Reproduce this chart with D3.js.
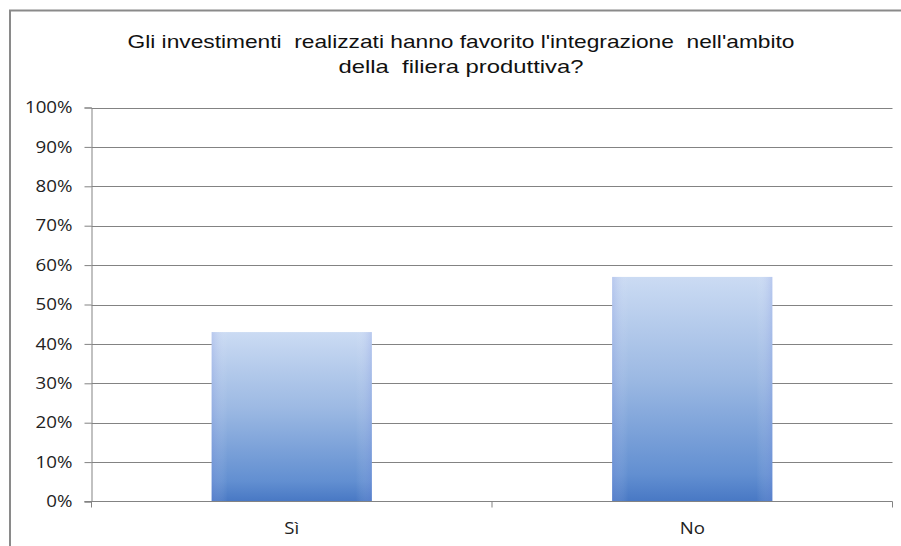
<!DOCTYPE html>
<html>
<head>
<meta charset="utf-8">
<script src="https://cdn.jsdelivr.net/npm/d3@7"></script>
<style>
  html, body { margin: 0; padding: 0; background: #ffffff; }
  svg { display: block; }
</style>
</head>
<body>
<script>
// Survey answers: share of respondents per answer
const categories = ["Sì", "No"];
const shares = [0.43, 0.57];
const yTicks = [0, 0.1, 0.2, 0.3, 0.4, 0.5, 0.6, 0.7, 0.8, 0.9, 1.0];
const titleLines = [
  "Gli investimenti  realizzati hanno favorito l'integrazione  nell'ambito",
  "della  filiera produttiva?"
];

const W = 901, H = 546;
const plot = { left: 91.5, right: 892.5, top: 107.5, bottom: 501.5 };

const svg = d3.select("body").append("svg")
  .attr("width", W).attr("height", H);

// widen a text node horizontally by a given factor
function widen(sel, factor) {
  sel.each(function () {
    const len = this.getComputedTextLength();
    d3.select(this)
      .attr("textLength", len * factor)
      .attr("lengthAdjust", "spacingAndGlyphs");
  });
}

// gradient for the bars: light blue on top, deeper blue at the base
const defs = svg.append("defs");
const grad = defs.append("linearGradient")
  .attr("id", "barFill").attr("x1", 0).attr("y1", 0).attr("x2", 0).attr("y2", 1);
grad.append("stop").attr("offset", "0%").attr("stop-color", "#cbdbf3");
grad.append("stop").attr("offset", "45%").attr("stop-color", "#9cb9e3");
grad.append("stop").attr("offset", "88%").attr("stop-color", "#628fd1");
grad.append("stop").attr("offset", "100%").attr("stop-color", "#4878c4");

const sideGrad = defs.append("linearGradient")
  .attr("id", "barSide").attr("x1", 0).attr("y1", 0).attr("x2", 1).attr("y2", 0);
sideGrad.append("stop").attr("offset", "0%").attr("stop-color", "#7d8fe0").attr("stop-opacity", 0.25);
sideGrad.append("stop").attr("offset", "10%").attr("stop-color", "#ffffff").attr("stop-opacity", 0);
sideGrad.append("stop").attr("offset", "90%").attr("stop-color", "#ffffff").attr("stop-opacity", 0);
sideGrad.append("stop").attr("offset", "100%").attr("stop-color", "#7d8fe0").attr("stop-opacity", 0.25);

// chart frame (only top and left edges fall inside the view)
svg.append("rect")
  .attr("x", 10).attr("y", 10.5)
  .attr("width", W + 20).attr("height", H + 20)
  .attr("fill", "none").attr("stroke", "#8a8a8a").attr("stroke-width", 2);

// title, two centred lines
const titleWidths = [667, 245];
svg.append("g")
  .selectAll("text").data(titleLines).join("text")
  .attr("x", 461)
  .attr("y", (d, i) => 48 + i * 25)
  .attr("text-anchor", "middle")
  .attr("font-family", "Liberation Sans, Arial, sans-serif")
  .attr("font-size", 18.6).attr("fill", "#111")
  .style("white-space", "pre")
  .text(d => d)
  .attr("textLength", (d, i) => titleWidths[i])
  .attr("lengthAdjust", "spacingAndGlyphs");

const x = d3.scaleBand()
  .domain(categories)
  .range([plot.left, plot.right])
  .paddingInner(0.6).paddingOuter(0.3);

const y = d3.scaleLinear().domain([0, 1]).range([plot.bottom, plot.top]);

// horizontal gridlines
svg.append("g")
  .selectAll("line").data(yTicks.filter(t => t > 0)).join("line")
  .attr("x1", plot.left).attr("x2", plot.right)
  .attr("y1", d => Math.round(y(d)) + 0.5).attr("y2", d => Math.round(y(d)) + 0.5)
  .attr("stroke", "#838383").attr("stroke-width", 1);

// y axis
const yAxis = d3.axisLeft(y)
  .tickValues(yTicks)
  .tickFormat(d3.format(".0%"))
  .tickSize(7).tickPadding(12);
const gy = svg.append("g")
  .attr("transform", `translate(${plot.left},0)`)
  .call(yAxis);
gy.select(".domain").attr("stroke", "#838383");
gy.selectAll(".tick line").attr("stroke", "#838383");
gy.selectAll(".tick text")
  .attr("font-family", "Open Sans, Liberation Sans, sans-serif")
  .attr("font-size", 16).attr("fill", "#222")
  .call(widen, 1.17);

// bars
const bars = svg.append("g");
bars.selectAll("rect.bar").data(categories).join("rect")
  .attr("class", "bar")
  .attr("x", d => x(d))
  .attr("width", x.bandwidth())
  .attr("y", (d, i) => y(shares[i]))
  .attr("height", (d, i) => y(0) - y(shares[i]))
  .attr("fill", "url(#barFill)");
bars.selectAll("rect.side").data(categories).join("rect")
  .attr("class", "side")
  .attr("x", d => x(d))
  .attr("width", x.bandwidth())
  .attr("y", (d, i) => y(shares[i]))
  .attr("height", (d, i) => y(0) - y(shares[i]))
  .attr("fill", "url(#barSide)");

// x axis (category boundaries ticked below the baseline)
const xAxisG = svg.append("g");
xAxisG.append("line")
  .attr("x1", plot.left - 7).attr("x2", plot.right)
  .attr("y1", plot.bottom).attr("y2", plot.bottom)
  .attr("stroke", "#838383");
const bounds = [plot.left, (plot.left + plot.right) / 2, plot.right];
xAxisG.selectAll("line.tk").data(bounds).join("line")
  .attr("class", "tk")
  .attr("x1", d => d).attr("x2", d => d)
  .attr("y1", plot.bottom).attr("y2", plot.bottom + 6)
  .attr("stroke", "#838383");
xAxisG.selectAll("text").data(categories).join("text")
  .attr("x", d => x(d) + x.bandwidth() / 2)
  .attr("y", 534)
  .attr("text-anchor", "middle")
  .attr("font-family", "Open Sans, Liberation Sans, sans-serif")
  .attr("font-size", 15.5).attr("fill", "#222")
  .text(d => d)
  .call(widen, 1.2);
</script>
</body>
</html>
